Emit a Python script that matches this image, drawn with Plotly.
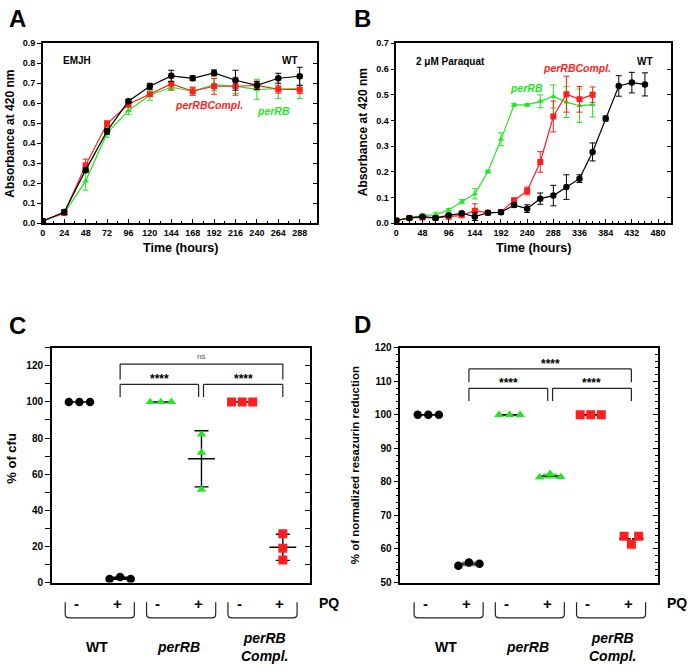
import numpy as np
import plotly.graph_objects as go

# ---------------- Panel A data (EMJH) ----------------
time_a = [0, 24, 48, 72, 96, 120, 144, 168, 192, 216, 240, 264, 288]
a_wt = [0.010, 0.055, 0.265, 0.460, 0.610, 0.685, 0.737, 0.725, 0.752, 0.715, 0.690, 0.725, 0.735]
a_wt_err = [0.005, 0.012, 0.010, 0.015, 0.010, 0.015, 0.028, 0.012, 0.015, 0.050, 0.020, 0.025, 0.045]
a_compl = [0.010, 0.050, 0.290, 0.497, 0.595, 0.645, 0.697, 0.660, 0.685, 0.685, 0.689, 0.670, 0.668]
a_compl_err = [0.005, 0.008, 0.030, 0.015, 0.015, 0.010, 0.030, 0.020, 0.040, 0.045, 0.020, 0.020, 0.020]
a_perrb = [0.010, 0.050, 0.210, 0.450, 0.564, 0.640, 0.680, 0.660, 0.693, 0.684, 0.670, 0.673, 0.673]
a_perrb_err = [0.005, 0.008, 0.045, 0.020, 0.020, 0.025, 0.015, 0.020, 0.030, 0.035, 0.050, 0.050, 0.050]

# ---------------- Panel B data (2 uM Paraquat) ----------------
time_b_wt = [0, 24, 48, 72, 96, 120, 144, 168, 192, 216, 240, 264, 288, 312, 336, 360, 384, 408, 432, 456]
b_wt = [0.010, 0.020, 0.025, 0.020, 0.030, 0.038, 0.025, 0.040, 0.042, 0.070, 0.056, 0.095, 0.107, 0.140,
        0.173, 0.277, 0.407, 0.534, 0.547, 0.540]
b_wt_err = [0.005, 0.005, 0.005, 0.005, 0.005, 0.005, 0.015, 0.005, 0.005, 0.008, 0.015, 0.022, 0.040, 0.048,
            0.015, 0.035, 0.010, 0.040, 0.040, 0.045]
time_b_mut = [0, 24, 48, 72, 96, 120, 144, 168, 192, 216, 240, 264, 288, 312, 336, 360]
b_compl = [0.010, 0.020, 0.022, 0.020, 0.025, 0.030, 0.048, 0.040, 0.043, 0.088, 0.125, 0.238, 0.415, 0.502,
           0.482, 0.500]
b_compl_err = [0.005, 0.005, 0.005, 0.005, 0.005, 0.005, 0.027, 0.005, 0.005, 0.010, 0.015, 0.040, 0.060,
               0.070, 0.050, 0.030]
b_perrb = [0.010, 0.020, 0.030, 0.032, 0.051, 0.083, 0.114, 0.200, 0.326, 0.460, 0.460, 0.474, 0.493, 0.471,
           0.457, 0.461]
b_perrb_err = [0.005, 0.005, 0.005, 0.008, 0.005, 0.008, 0.020, 0.005, 0.025, 0.005, 0.005, 0.025, 0.045,
               0.060, 0.065, 0.048]

# ---------------- Panels C / D data ----------------
groups = ["WT -", "WT +", "perRB -", "perRB +", "Compl -", "Compl +"]
c_vals = [[100, 100, 100], [2, 3, 2], [100, 100, 100], [82, 72, 51.5], [100, 100, 100], [27, 19, 12.5]]
d_vals = [[100, 100, 100], [55.0, 56.0, 55.6], [100, 100, 100], [81.4, 82.4, 81.5], [100, 100, 100],
          [63.8, 61.4, 63.8]]
strain_labels = ["WT", "<i>perRB</i>", "<i>perRB</i><br><i>Compl.</i>"]
pq_labels = ["-", "+", "-", "+", "-", "+"]

# ---------------- styles ----------------
W, H = 697, 671
FONT = "Liberation Sans, Arial, sans-serif"
BLACK = "#000000"
RED = "#ff1e1e"
GREEN = "#22e622"
grp_color = [BLACK, BLACK, GREEN, GREEN, RED, RED]
grp_symbol = ["circle", "circle", "triangle-up", "triangle-up", "square", "square"]
c_jitter = [[-0.26, 0, 0.26], [-0.26, 0, 0.26], [-0.26, 0, 0.26], [0, 0, 0], [-0.26, 0, 0.26], [0, 0, 0]]
d_jitter = [[-0.26, 0, 0.26], [-0.26, 0, 0.26], [-0.26, 0, 0.26], [-0.26, 0, 0.26], [-0.26, 0, 0.26],
            [-0.18, 0, 0.18]]


def px(x):
    return x / W


def py(y):
    return 1 - y / H


fig = go.Figure()


def add_series(x, y, err, color, symbol, xa, ya, size):
    fig.add_trace(go.Scatter(
        x=x, y=y, mode="lines+markers", xaxis=xa, yaxis=ya,
        line=dict(color=color, width=1.2),
        marker=dict(color=color, symbol=symbol, size=size),
        error_y=dict(type="data", array=err, visible=True, color=color, thickness=1, width=3),
        showlegend=False, hoverinfo="skip"))


# Panel A
add_series(time_a, a_perrb, a_perrb_err, GREEN, "triangle-up", "x", "y", 6)
add_series(time_a, a_compl, a_compl_err, RED, "square", "x", "y", 6)
add_series(time_a, a_wt, a_wt_err, BLACK, "circle", "x", "y", 6.5)
# Panel B
add_series(time_b_mut, b_perrb, b_perrb_err, GREEN, "triangle-up", "x2", "y2", 5.5)
add_series(time_b_mut, b_compl, b_compl_err, RED, "square", "x2", "y2", 6)
add_series(time_b_wt, b_wt, b_wt_err, BLACK, "circle", "x2", "y2", 6.5)


def add_dotplot(vals, jit, xa, ya, mean_w, sd_colors):
    for i, v in enumerate(vals):
        pos = i + 1
        arr = np.array(v, dtype=float)
        m = arr.mean()
        sd = arr.std(ddof=1)
        fig.add_trace(go.Scatter(
            x=[pos - mean_w[i], pos + mean_w[i]], y=[m, m], mode="lines", xaxis=xa, yaxis=ya,
            line=dict(color=BLACK, width=1.6),
            showlegend=False, hoverinfo="skip"))
        if sd > 0.5:
            fig.add_trace(go.Scatter(
                x=[pos], y=[m], mode="markers", xaxis=xa, yaxis=ya,
                marker=dict(size=0.1, color="rgba(0,0,0,0)"),
                error_y=dict(type="data", array=[sd], visible=True, color=sd_colors[i],
                             thickness=1.4, width=7),
                showlegend=False, hoverinfo="skip"))
        fig.add_trace(go.Scatter(
            x=[pos + j for j in jit[i]], y=v, mode="markers", xaxis=xa, yaxis=ya,
            marker=dict(color=grp_color[i], symbol=grp_symbol[i],
                        size=8.5 if grp_symbol[i] != "square" else 9, line=dict(width=0)),
            showlegend=False, hoverinfo="skip"))


add_dotplot(c_vals, c_jitter, "x3", "y3", [0.3, 0.25, 0.3, 0.33, 0.3, 0.33],
            [BLACK, BLACK, BLACK, BLACK, BLACK, BLACK])
add_dotplot(d_vals, d_jitter, "x4", "y4", [0.3, 0.27, 0.3, 0.3, 0.3, 0.3],
            [BLACK, "#777777", BLACK, GREEN, BLACK, "#ffffff"])

# dummy traces for right-side (inside) tick axes
for xa, ya in [("x", "y5"), ("x2", "y6"), ("x3", "y7"), ("x4", "y8")]:
    fig.add_trace(go.Scatter(x=[None], y=[None], xaxis=xa, yaxis=ya, showlegend=False, hoverinfo="skip"))

tickfont_s = dict(family=FONT, size=9, color=BLACK, weight="bold")
tickfont_m = dict(family=FONT, size=10, color=BLACK, weight="bold")

dom_a_x = [px(40), px(315)]
dom_b_x = [px(395), px(671)]
dom_ab_y = [py(221), py(38)]
dom_c_x = [px(49), px(308)]
dom_d_x = [px(399), px(658)]
dom_cd_y = [py(587), py(348)]

frame = dict(showline=True, linecolor=BLACK, linewidth=1.5, mirror=True, showgrid=False, zeroline=False)

fig.update_layout(
    width=W, height=H, margin=dict(l=0, r=0, t=0, b=0),
    paper_bgcolor="white", plot_bgcolor="white",
    font=dict(family=FONT, color=BLACK),
    xaxis=dict(domain=dom_a_x, anchor="y", range=[0, 307], tick0=0, dtick=24, ticks="inside",
               ticklen=4, tickwidth=1, tickcolor=BLACK, tickfont=tickfont_s,
               minor=dict(dtick=12, ticklen=2.5, ticks="inside", tickcolor=BLACK), **frame),
    yaxis=dict(domain=dom_ab_y, anchor="x", range=[0, 0.9], tick0=0, dtick=0.1, tickformat=".1f",
               ticks="outside", ticklen=4, tickcolor=BLACK, tickfont=tickfont_s, **frame),
    xaxis2=dict(domain=dom_b_x, anchor="y2", range=[0, 504], tick0=0, dtick=48, ticks="inside",
                ticklen=4, tickcolor=BLACK, tickfont=tickfont_s,
                minor=dict(dtick=12, ticklen=2.5, ticks="inside", tickcolor=BLACK), **frame),
    yaxis2=dict(domain=dom_ab_y, anchor="x2", range=[0, 0.7], tick0=0, dtick=0.1, tickformat=".1f",
                ticks="outside", ticklen=4, tickcolor=BLACK, tickfont=tickfont_s, **frame),
    xaxis3=dict(domain=dom_c_x, anchor="y3", range=[0.32, 6.66], showticklabels=False, ticks="", **frame),
    yaxis3=dict(domain=dom_cd_y, anchor="x3", range=[0, 130], tick0=0, dtick=20, ticks="outside",
                ticklen=5, tickcolor=BLACK, tickwidth=1.2, tickfont=tickfont_m,
                minor=dict(dtick=10, ticklen=5, ticks="outside", tickcolor=BLACK), **frame),
    xaxis4=dict(domain=dom_d_x, anchor="y4", range=[0.31, 6.66], showticklabels=False, ticks="", **frame),
    yaxis4=dict(domain=dom_cd_y, anchor="x4", range=[50, 120], tick0=50, dtick=10, ticks="outside",
                ticklen=5, tickcolor=BLACK, tickwidth=1.2, tickfont=tickfont_m,
                minor=dict(dtick=2, ticklen=3, ticks="outside", tickcolor=BLACK), **frame),
    yaxis5=dict(overlaying="y", side="right", anchor="x", range=[0, 0.9], dtick=0.1, ticks="inside",
                ticklen=4, tickcolor=BLACK, showticklabels=False, showgrid=False, zeroline=False, showline=False),
    yaxis6=dict(overlaying="y2", side="right", anchor="x2", range=[0, 0.7], dtick=0.1, ticks="inside",
                ticklen=4, tickcolor=BLACK, showticklabels=False, showgrid=False, zeroline=False, showline=False),
    yaxis7=dict(overlaying="y3", side="right", anchor="x3", range=[0, 130], tick0=0, dtick=10, ticks="inside",
                ticklen=5, tickcolor=BLACK, showticklabels=False, showgrid=False, zeroline=False, showline=False),
    yaxis8=dict(overlaying="y4", side="right", anchor="x4", range=[50, 120], tick0=50, dtick=10, ticks="inside",
                ticklen=5, tickcolor=BLACK, showticklabels=False, showgrid=False, zeroline=False, showline=False,
                minor=dict(dtick=2, ticklen=3, ticks="inside", tickcolor=BLACK)),
)

ann = []


def text(x, y, s, size, color=BLACK, bold=True, italic=False, angle=0, xanchor="center", xref="paper",
         yref="paper", yanchor="middle"):
    if italic:
        s = "<i>" + s + "</i>"
    ann.append(dict(x=x, y=y, xref=xref, yref=yref, text=s, showarrow=False, textangle=angle,
                    xanchor=xanchor, yanchor=yanchor,
                    font=dict(family=FONT, size=size, color=color, weight="bold" if bold else "normal")))


# panel letters
text(px(15), py(13), "A", 24)
text(px(361), py(13), "B", 24)
text(px(15), py(325), "C", 24)
text(px(361), py(324), "D", 24)

# axis titles
text(px(7), py(130), "Absorbance at 420 nm", 12, angle=-90)
text(px(361), py(128), "Absorbance at 420 nm", 12, angle=-90)
text(px(178), py(246), "Time (hours)", 12.5)
text(px(533), py(246), "Time (hours)", 12.5)
text(px(9), py(460), "% of cfu", 13, angle=-90)
text(px(353), py(467), "% of normalized resazurin reduction", 11.5, angle=-90)

# in-plot labels A
text(px(58), py(55), "EMJH", 10, xanchor="left")
text(px(298), py(55), "WT", 10, xanchor="right")
text(px(243), py(101), "perRBCompl.", 10.5, color=RED, italic=True, xanchor="right")
text(px(290), py(107), "perRB", 10.5, color=GREEN, italic=True, xanchor="right")
# in-plot labels B
text(px(413), py(57), "2 \u03bcM Paraquat", 10, xanchor="left")
text(px(655), py(57), "WT", 10, xanchor="right")
text(px(613), py(63), "perRBCompl.", 10.5, color=RED, italic=True, xanchor="right")
text(px(544), py(83), "perRB", 10.5, color=GREEN, italic=True, xanchor="right")

shapes = []


def bracket(xa, ya, x1, x2, ytop, yleg):
    for xs, ys in [([x1, x1], [yleg, ytop]), ([x1, x2], [ytop, ytop]), ([x2, x2], [ytop, yleg])]:
        shapes.append(dict(type="line", xref=xa, yref=ya, x0=xs[0], x1=xs[1], y0=ys[0], y1=ys[1],
                           line=dict(color="#222222", width=1.2)))


# C significance brackets
bracket("x3", "y3", 2, 6, 121, 112.5)
bracket("x3", "y3", 2, 3.93, 109.7, 102.7)
bracket("x3", "y3", 4.05, 6, 109.7, 102.7)
text(4, 125, "ns", 8, color="#555555", bold=False, xref="x3", yref="y3")
text(2.97, 112.6, "****", 12, xref="x3", yref="y3")
text(5.03, 112.6, "****", 12, xref="x3", yref="y3")
# D significance brackets
bracket("x4", "y4", 2, 6, 113.7, 109.7)
bracket("x4", "y4", 2, 3.94, 107.9, 104.1)
bracket("x4", "y4", 4.06, 6, 107.9, 104.1)
text(4, 115.2, "****", 12, xref="x4", yref="y4")
text(2.97, 109.4, "****", 12, xref="x4", yref="y4")
text(5.03, 109.4, "****", 12, xref="x4", yref="y4")

# group labels under C and D
for xa, pq_x in [("x3", px(327)), ("x4", px(677))]:
    for i, lab in enumerate(pq_labels):
        text(i + 1 - 0.07, py(608), lab, 15, xref=xa)
    text(pq_x, py(608), "PQ", 14)
    for k, lab in enumerate(strain_labels):
        c = 1.5 + 2 * k
        x1, x2 = c - 0.85, c + 0.85
        yt, yb = py(607), py(623)
        r = py(619) - yb
        path = (f"M {x1},{yt} L {x1},{yb + r} Q {x1},{yb} {x1 + 0.1},{yb} "
                f"L {x2 - 0.1},{yb} Q {x2},{yb} {x2},{yb + r} L {x2},{yt}")
        shapes.append(dict(type="path", xref=xa, yref="paper", path=path,
                           line=dict(color="#222222", width=1.2)))
        if k < 2:
            text(c - 0.06, py(653), lab, 14, xref=xa)
        else:
            text(c + 0.04, py(653), lab, 14, xref=xa)

fig.update_layout(annotations=ann, shapes=shapes)
fig.write_html("out.html", config={"displayModeBar": False},
               post_script="document.body.style.margin='0px';")
